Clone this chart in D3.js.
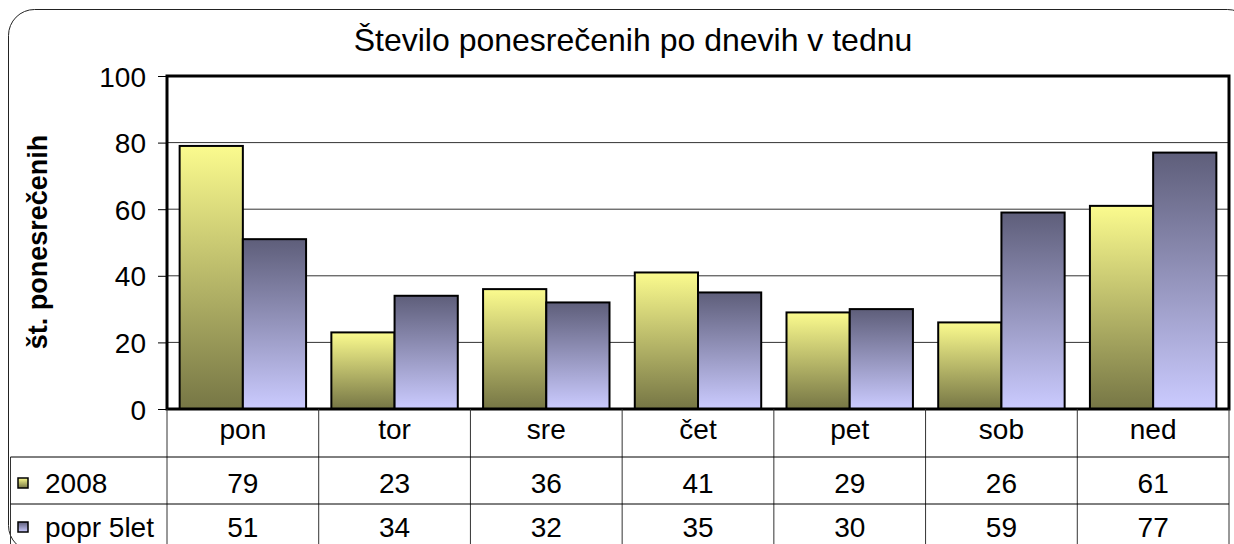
<!DOCTYPE html>
<html>
<head>
<meta charset="utf-8">
<script src="https://cdn.jsdelivr.net/npm/d3@7"></script>
<style>
  body { margin: 0; background: #fff; }
  svg { display: block; font-family: "Liberation Sans", Arial, sans-serif; }
</style>
</head>
<body>
<div id="chart"></div>
<script>
const days = ['pon', 'tor', 'sre', 'čet', 'pet', 'sob', 'ned'];
const seriesNames = ['2008', 'popr 5let'];
const values2008 = [79, 23, 36, 41, 29, 26, 61];
const valuesAvg = [51, 34, 32, 35, 30, 59, 77];
const yTicks = [0, 20, 40, 60, 80, 100];

const W = 1234, H = 544;
const margin = { top: 76, right: 5, bottom: 135, left: 167 };
const width = W - margin.left - margin.right;
const height = H - margin.top - margin.bottom;
const fs = '28px';

const svg = d3.select('#chart').append('svg')
  .attr('width', W)
  .attr('height', H);

const defs = svg.append('defs');
const grads = [
  { id: 'g2008', top: '#fbfb8e', bottom: '#767645' },
  { id: 'gAvg', top: '#5e5e7a', bottom: '#cbcbff' },
];
grads.forEach((g) => {
  const lg = defs.append('linearGradient')
    .attr('id', g.id)
    .attr('x1', 0).attr('y1', 0).attr('x2', 0).attr('y2', 1);
  lg.append('stop').attr('offset', '0%').attr('stop-color', g.top);
  lg.append('stop').attr('offset', '100%').attr('stop-color', g.bottom);
});

// chart area frame
svg.append('rect')
  .attr('x', 8.5).attr('y', 9.5)
  .attr('width', 1245).attr('height', 542)
  .attr('rx', 26)
  .attr('fill', 'none')
  .attr('stroke', '#222')
  .attr('stroke-width', 1);

svg.append('text')
  .attr('x', 633).attr('y', 51)
  .attr('text-anchor', 'middle')
  .style('font-size', '32px')
  .text('Število ponesrečenih po dnevih v tednu');

const g = svg.append('g')
  .attr('transform', `translate(${margin.left}, ${margin.top})`);

const x = d3.scaleBand().domain(days).range([0, width]);
const y = d3.scaleLinear().domain([0, 100]).range([height, 0]);

// gridlines
g.selectAll('.grid')
  .data(yTicks.filter(t => t > 0 && t < 100))
  .enter()
  .append('line')
  .attr('x1', 0).attr('x2', width)
  .attr('y1', d => y(d)).attr('y2', d => y(d))
  .attr('stroke', '#333')
  .attr('stroke-width', 1);

const yAxis = d3.axisLeft(y).tickValues(yTicks).tickSize(9).tickPadding(12);
const ya = g.append('g').call(yAxis);
ya.select('.domain').remove();
ya.selectAll('text')
  .style('font-size', fs)
  .style('font-family', '"Liberation Sans", Arial, sans-serif')
  .attr('fill', '#000')
  .attr('dy', '0.36em');
ya.selectAll('line').attr('stroke', '#000');

// bars
const bw = x.bandwidth() / 2.4;
const off = (x.bandwidth() - 2 * bw) / 2;
const series = [
  { vals: values2008, fill: 'url(#g2008)' },
  { vals: valuesAvg, fill: 'url(#gAvg)' },
];
series.forEach((s, si) => {
  g.selectAll(`.bar${si}`)
    .data(s.vals)
    .enter()
    .append('rect')
    .attr('x', (d, i) => x(days[i]) + off + si * bw)
    .attr('y', d => y(d))
    .attr('width', bw)
    .attr('height', d => height - y(d))
    .attr('fill', s.fill)
    .attr('stroke', '#000')
    .attr('stroke-width', 2);
});

// plot frame
g.append('rect')
  .attr('x', 0).attr('y', 0)
  .attr('width', width).attr('height', height)
  .attr('fill', 'none')
  .attr('stroke', '#000')
  .attr('stroke-width', 3);

// y title
svg.append('text')
  .attr('transform', 'translate(47, 242) rotate(-90)')
  .attr('text-anchor', 'middle')
  .style('font-size', '27px')
  .style('font-weight', 'bold')
  .text('št. ponesrečenih');

// data table
const rowCat = 457 - margin.top;
const row1 = 504 - margin.top;
const tableLeft = 10.5 - margin.left;
days.forEach((d) => {
  g.append('line')
    .attr('x1', x(d)).attr('x2', x(d))
    .attr('y1', height).attr('y2', H - margin.top)
    .attr('stroke', '#333');
});
g.append('line')
  .attr('x1', width).attr('x2', width)
  .attr('y1', height).attr('y2', H - margin.top)
  .attr('stroke', '#333');
g.append('line')
  .attr('x1', tableLeft).attr('x2', tableLeft)
  .attr('y1', rowCat).attr('y2', H - margin.top)
  .attr('stroke', '#333');
[rowCat, row1].forEach((ry) => {
  g.append('line')
    .attr('x1', tableLeft).attr('x2', width)
    .attr('y1', ry).attr('y2', ry)
    .attr('stroke', '#000');
});

g.selectAll('.cat')
  .data(days)
  .enter()
  .append('text')
  .attr('x', d => x(d) + x.bandwidth() / 2)
  .attr('y', height + 30)
  .attr('text-anchor', 'middle')
  .style('font-size', fs)
  .text(d => d);

series.forEach((s, si) => {
  const ry = si === 0 ? rowCat + 36 : row1 + 33;
  g.selectAll(`.val${si}`)
    .data(s.vals)
    .enter()
    .append('text')
    .attr('x', (d, i) => x(days[i]) + x.bandwidth() / 2)
    .attr('y', ry)
    .attr('text-anchor', 'middle')
    .style('font-size', fs)
    .text(d => d);
  g.append('rect')
    .attr('x', 18 - margin.left).attr('y', ry - 15)
    .attr('width', 10).attr('height', 10)
    .attr('fill', s.fill)
    .attr('stroke', '#000')
    .attr('stroke-width', 1.5);
  g.append('text')
    .attr('x', 45 - margin.left)
    .attr('y', ry)
    .style('font-size', fs)
    .text(seriesNames[si]);
});
</script>
</body>
</html>
